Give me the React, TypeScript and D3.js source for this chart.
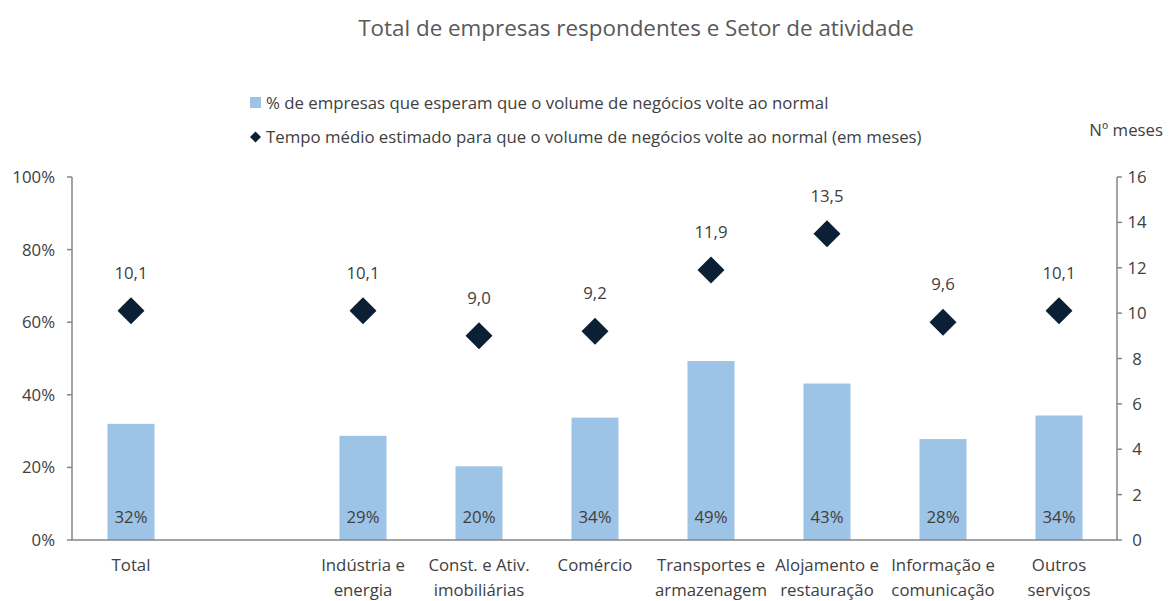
import * as d3 from "d3";

const categories = [
  ["Total"],
  [""],
  ["Indústria e", "energia"],
  ["Const. e Ativ.", "imobiliárias"],
  ["Comércio"],
  ["Transportes e", "armazenagem"],
  ["Alojamento e", "restauração"],
  ["Informação e", "comunicação"],
  ["Outros", "serviços"],
];
const pctValues: (number | null)[] = [32.0, null, 28.7, 20.3, 33.7, 49.3, 43.1, 27.8, 34.3];
const monthValues: (number | null)[] = [10.1, null, 10.1, 9.0, 9.2, 11.9, 13.5, 9.6, 10.1];
const leftTicks = [0, 20, 40, 60, 80, 100];
const rightTicks = [0, 2, 4, 6, 8, 10, 12, 14, 16];

const W = 1170;
const H = 601;
const m = { left: 73, right: 1117, top: 177, bottom: 540 };
const FONT = "Open Sans, sans-serif";
const FS = 16.8;
const TXT = "#404040";
const BAR = "#9dc3e6";
const DIA = "#0b2035";

export default function App() {
  const idx = categories.map((_, i) => String(i));
  const x = d3.scaleBand().domain(idx).range([m.left, m.right]).paddingInner(0).paddingOuter(0);
  const yL = d3.scaleLinear().domain([0, 100]).range([m.bottom, m.top]);
  const yR = d3.scaleLinear().domain([0, 16]).range([m.bottom, m.top]);
  const barW = 47;
  const cx = (i: number) => (x(String(i)) as number) + x.bandwidth() / 2;
  const dia = (px: number, py: number, r: number) =>
    `M${px},${py - r}L${px + r},${py}L${px},${py + r}L${px - r},${py}Z`;

  return (
    <svg width={W} height={H} style={{ position: "absolute", left: 0, top: 0, background: "#fff" }}>
      <text x={636} y={36} textAnchor="middle" fontFamily={FONT} fontSize={22.4} fill="#595959">
        Total de empresas respondentes e Setor de atividade
      </text>

      {/* legend */}
      <rect x={250} y={97} width={11} height={11} fill={BAR} />
      <text x={266} y={109} fontFamily={FONT} fontSize={FS} fill={TXT}>
        % de empresas que esperam que o volume de negócios volte ao normal
      </text>
      <path d={dia(255.5, 137, 5.5)} fill={DIA} />
      <text x={266} y={143} fontFamily={FONT} fontSize={FS} fill={TXT}>
        Tempo médio estimado para que o volume de negócios volte ao normal (em meses)
      </text>
      <text x={1163} y={136} textAnchor="end" fontFamily={FONT} fontSize={FS} fill={TXT}>
        Nº meses
      </text>

      {/* left axis */}
      <line x1={m.left - 1} x2={m.left - 1} y1={m.top} y2={m.bottom} stroke="#868686" strokeWidth={1.5} />
      {leftTicks.map((t) => (
        <g key={"l" + t}>
          <line x1={m.left - 6} x2={m.left - 1} y1={yL(t)} y2={yL(t)} stroke="#868686" strokeWidth={1.5} />
          <text x={55} y={yL(t) + 6} textAnchor="end" fontFamily={FONT} fontSize={FS} fill={TXT}>
            {t}%
          </text>
        </g>
      ))}

      {/* right axis */}
      <line x1={m.right} x2={m.right} y1={m.top} y2={m.bottom} stroke="#868686" strokeWidth={1.5} />
      {rightTicks.map((t) => (
        <g key={"r" + t}>
          <line x1={m.right} x2={m.right + 5} y1={yR(t)} y2={yR(t)} stroke="#868686" strokeWidth={1.5} />
          <text x={1137} y={yR(t) + 6} textAnchor="middle" fontFamily={FONT} fontSize={FS} fill={TXT}>
            {t}
          </text>
        </g>
      ))}

      {/* bars */}
      {pctValues.map((v, i) =>
        v == null ? null : (
          <g key={"b" + i}>
            <rect x={cx(i) - barW / 2} y={yL(v)} width={barW} height={yL(0) - yL(v)} fill={BAR} />
            <text x={cx(i)} y={523} textAnchor="middle" fontFamily={FONT} fontSize={FS} fill={TXT}>
              {Math.round(v)}%
            </text>
          </g>
        )
      )}

      {/* x axis */}
      <line x1={m.left - 1} x2={m.right} y1={m.bottom} y2={m.bottom} stroke="#868686" strokeWidth={1.5} />
      {categories.map((lines, i) => (
        <text key={"c" + i} textAnchor="middle" fontFamily={FONT} fontSize={FS} fill={TXT}>
          {lines.map((s, j) => (
            <tspan key={j} x={cx(i)} y={571 + j * 25}>
              {s}
            </tspan>
          ))}
        </text>
      ))}

      {/* diamonds */}
      {monthValues.map((v, i) =>
        v == null ? null : (
          <g key={"d" + i}>
            <path d={dia(cx(i), yR(v), 13.5)} fill={DIA} />
            <text x={cx(i)} y={yR(v) - 32} textAnchor="middle" fontFamily={FONT} fontSize={FS} fill={TXT}>
              {v.toFixed(1).replace(".", ",")}
            </text>
          </g>
        )
      )}
    </svg>
  );
}
